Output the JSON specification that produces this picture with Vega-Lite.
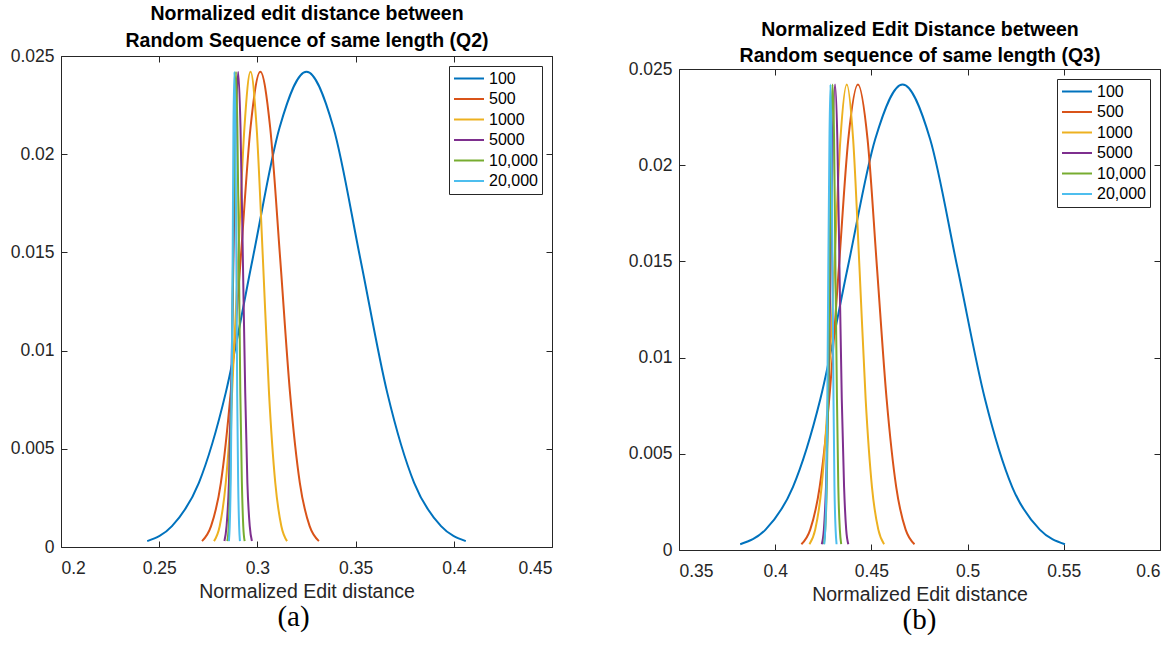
{
  "$schema": "https://vega.github.io/schema/vega-lite/v6.json",
  "background": "white",
  "padding": {"left": 10, "top": 2, "right": 0, "bottom": 0},
  "datasets": {
    "q2": [
      {"n":"100","x":0.2439,"p":0.0003},{"n":"100","x":0.2565,"p":0.00106},{"n":"100","x":0.2702,"p":0.00327},{"n":"100","x":0.2839,"p":0.00786},{"n":"100","x":0.2976,"p":0.01468},{"n":"100","x":0.3113,"p":0.02136},{"n":"100","x":0.325,"p":0.0242},{"n":"100","x":0.3387,"p":0.02136},{"n":"100","x":0.3524,"p":0.01468},{"n":"100","x":0.3661,"p":0.00786},{"n":"100","x":0.3798,"p":0.00327},{"n":"100","x":0.3935,"p":0.00106},{"n":"100","x":0.4061,"p":0.0003},
      {"n":"500","x":0.2718,"p":0.0003},{"n":"500","x":0.2764,"p":0.00106},{"n":"500","x":0.2814,"p":0.00327},{"n":"500","x":0.2864,"p":0.00786},{"n":"500","x":0.2915,"p":0.01468},{"n":"500","x":0.2965,"p":0.02136},{"n":"500","x":0.3015,"p":0.0242},{"n":"500","x":0.3065,"p":0.02136},{"n":"500","x":0.3116,"p":0.01468},{"n":"500","x":0.3166,"p":0.00786},{"n":"500","x":0.3216,"p":0.00327},{"n":"500","x":0.3266,"p":0.00106},{"n":"500","x":0.3313,"p":0.0003},
      {"n":"1000","x":0.2779,"p":0.0003},{"n":"1000","x":0.2808,"p":0.00106},{"n":"1000","x":0.2839,"p":0.00327},{"n":"1000","x":0.2871,"p":0.00786},{"n":"1000","x":0.2902,"p":0.01468},{"n":"1000","x":0.2934,"p":0.02136},{"n":"1000","x":0.2965,"p":0.0242},{"n":"1000","x":0.2996,"p":0.02136},{"n":"1000","x":0.3028,"p":0.01468},{"n":"1000","x":0.3059,"p":0.00786},{"n":"1000","x":0.3091,"p":0.00327},{"n":"1000","x":0.3122,"p":0.00106},{"n":"1000","x":0.3151,"p":0.0003},
      {"n":"5000","x":0.2832,"p":0.0003},{"n":"5000","x":0.2843,"p":0.00106},{"n":"5000","x":0.2855,"p":0.00327},{"n":"5000","x":0.2866,"p":0.00786},{"n":"5000","x":0.2878,"p":0.01468},{"n":"5000","x":0.289,"p":0.02136},{"n":"5000","x":0.2902,"p":0.0242},{"n":"5000","x":0.2914,"p":0.02136},{"n":"5000","x":0.2926,"p":0.01468},{"n":"5000","x":0.2938,"p":0.00786},{"n":"5000","x":0.2949,"p":0.00327},{"n":"5000","x":0.2961,"p":0.00106},{"n":"5000","x":0.2972,"p":0.0003},
      {"n":"10,000","x":0.2847,"p":0.0003},{"n":"10,000","x":0.2854,"p":0.00106},{"n":"10,000","x":0.2861,"p":0.00327},{"n":"10,000","x":0.2869,"p":0.00786},{"n":"10,000","x":0.2876,"p":0.01468},{"n":"10,000","x":0.2884,"p":0.02136},{"n":"10,000","x":0.2891,"p":0.0242},{"n":"10,000","x":0.2898,"p":0.02136},{"n":"10,000","x":0.2906,"p":0.01468},{"n":"10,000","x":0.2913,"p":0.00786},{"n":"10,000","x":0.2921,"p":0.00327},{"n":"10,000","x":0.2928,"p":0.00106},{"n":"10,000","x":0.2935,"p":0.0003},
      {"n":"20,000","x":0.2855,"p":0.0003},{"n":"20,000","x":0.2859,"p":0.00106},{"n":"20,000","x":0.2864,"p":0.00327},{"n":"20,000","x":0.2869,"p":0.00786},{"n":"20,000","x":0.2874,"p":0.01468},{"n":"20,000","x":0.2878,"p":0.02136},{"n":"20,000","x":0.2883,"p":0.0242},{"n":"20,000","x":0.2888,"p":0.02136},{"n":"20,000","x":0.2893,"p":0.01468},{"n":"20,000","x":0.2897,"p":0.00786},{"n":"20,000","x":0.2902,"p":0.00327},{"n":"20,000","x":0.2907,"p":0.00106},{"n":"20,000","x":0.2911,"p":0.0003}
    ],
    "q3": [
      {"n":"100","x":0.3818,"p":0.0003},{"n":"100","x":0.395,"p":0.00106},{"n":"100","x":0.4092,"p":0.00327},{"n":"100","x":0.4235,"p":0.00786},{"n":"100","x":0.4377,"p":0.01468},{"n":"100","x":0.452,"p":0.02136},{"n":"100","x":0.4662,"p":0.0242},{"n":"100","x":0.4805,"p":0.02136},{"n":"100","x":0.4947,"p":0.01468},{"n":"100","x":0.509,"p":0.00786},{"n":"100","x":0.5232,"p":0.00327},{"n":"100","x":0.5375,"p":0.00106},{"n":"100","x":0.5506,"p":0.0003},
      {"n":"500","x":0.4136,"p":0.0003},{"n":"500","x":0.4182,"p":0.00106},{"n":"500","x":0.4231,"p":0.00327},{"n":"500","x":0.4281,"p":0.00786},{"n":"500","x":0.4331,"p":0.01468},{"n":"500","x":0.438,"p":0.02136},{"n":"500","x":0.443,"p":0.0242},{"n":"500","x":0.448,"p":0.02136},{"n":"500","x":0.4529,"p":0.01468},{"n":"500","x":0.4579,"p":0.00786},{"n":"500","x":0.4629,"p":0.00327},{"n":"500","x":0.4678,"p":0.00106},{"n":"500","x":0.4724,"p":0.0003},
      {"n":"1000","x":0.4178,"p":0.0003},{"n":"1000","x":0.4208,"p":0.00106},{"n":"1000","x":0.4241,"p":0.00327},{"n":"1000","x":0.4274,"p":0.00786},{"n":"1000","x":0.4307,"p":0.01468},{"n":"1000","x":0.4339,"p":0.02136},{"n":"1000","x":0.4372,"p":0.0242},{"n":"1000","x":0.4405,"p":0.02136},{"n":"1000","x":0.4438,"p":0.01468},{"n":"1000","x":0.447,"p":0.00786},{"n":"1000","x":0.4503,"p":0.00327},{"n":"1000","x":0.4536,"p":0.00106},{"n":"1000","x":0.4566,"p":0.0003},
      {"n":"5000","x":0.4242,"p":0.0003},{"n":"5000","x":0.4253,"p":0.00106},{"n":"5000","x":0.4264,"p":0.00327},{"n":"5000","x":0.4276,"p":0.00786},{"n":"5000","x":0.4288,"p":0.01468},{"n":"5000","x":0.4299,"p":0.02136},{"n":"5000","x":0.4311,"p":0.0242},{"n":"5000","x":0.4323,"p":0.02136},{"n":"5000","x":0.4334,"p":0.01468},{"n":"5000","x":0.4346,"p":0.00786},{"n":"5000","x":0.4358,"p":0.00327},{"n":"5000","x":0.4369,"p":0.00106},{"n":"5000","x":0.438,"p":0.0003},
      {"n":"10,000","x":0.4253,"p":0.0003},{"n":"10,000","x":0.426,"p":0.00106},{"n":"10,000","x":0.4268,"p":0.00327},{"n":"10,000","x":0.4275,"p":0.00786},{"n":"10,000","x":0.4283,"p":0.01468},{"n":"10,000","x":0.429,"p":0.02136},{"n":"10,000","x":0.4298,"p":0.0242},{"n":"10,000","x":0.4306,"p":0.02136},{"n":"10,000","x":0.4313,"p":0.01468},{"n":"10,000","x":0.4321,"p":0.00786},{"n":"10,000","x":0.4328,"p":0.00327},{"n":"10,000","x":0.4336,"p":0.00106},{"n":"10,000","x":0.4343,"p":0.0003},
      {"n":"20,000","x":0.4255,"p":0.0003},{"n":"20,000","x":0.426,"p":0.00106},{"n":"20,000","x":0.4266,"p":0.00327},{"n":"20,000","x":0.4271,"p":0.00786},{"n":"20,000","x":0.4276,"p":0.01468},{"n":"20,000","x":0.4282,"p":0.02136},{"n":"20,000","x":0.4287,"p":0.0242},{"n":"20,000","x":0.4292,"p":0.02136},{"n":"20,000","x":0.4298,"p":0.01468},{"n":"20,000","x":0.4303,"p":0.00786},{"n":"20,000","x":0.4308,"p":0.00327},{"n":"20,000","x":0.4314,"p":0.00106},{"n":"20,000","x":0.4319,"p":0.0003}
    ]
  },
  "config": {
    "view": {"stroke": null},
    "font": "Liberation Sans",
    "axis": {
      "grid": false,
      "domainColor": "#262626",
      "tickColor": "#262626",
      "labelColor": "#262626",
      "titleColor": "#262626",
      "labelFont": "Liberation Sans",
      "titleFont": "Liberation Sans",
      "labelFontSize": 17.5,
      "titleFontSize": 19.5,
      "titleFontWeight": "normal",
      "tickSize": -6,
      "domainWidth": 1,
      "tickWidth": 1
    },
    "legend": {
      "orient": "top-right",
      "offset": 10,
      "symbolType": "stroke",
      "symbolSize": 900,
      "symbolStrokeWidth": 2,
      "labelFont": "Liberation Sans",
      "labelFontSize": 16,
      "labelColor": "#000000",
      "strokeColor": "#262626",
      "fillColor": "white",
      "padding": 4,
      "clipHeight": 17,
      "rowPadding": 3.5,
      "labelOffset": 4,
      "cornerRadius": 0
    },
    "line": {"strokeWidth": 2, "interpolate": "monotone"}
  },
  "spacing": 75,
  "resolve": {"legend": {"color": "independent"}},
  "hconcat": [
    {
      "spacing": 0,
      "resolve": {"legend": {"color": "independent"}},
      "vconcat": [
        {
          "width": 10,
          "height": 1,
          "data": {"values": [{}]},
          "mark": {"type": "point", "opacity": 0, "size": 0}
        },
        {
          "width": 491,
          "height": 491,
          "data": {"name": "q2"},
          "title": {"text": "(a)", "orient": "bottom", "font": "Liberation Serif", "fontSize": 29, "fontWeight": "normal", "color": "#000000", "offset": 2, "dx": -13},
          "resolve": {"axis": {"x": "independent", "y": "independent"}},
          "layer": [
            {
              "mark": {"type": "line"},
              "encoding": {
                "x": {"field": "x", "type": "quantitative", "scale": {"domain": [0.2, 0.45], "nice": false, "zero": false},
                      "axis": {"orient": "bottom", "title": "Normalized Edit distance", "values": [0.2, 0.25, 0.3, 0.35, 0.4, 0.45], "format": "~g", "labelPadding": 18, "titlePadding": 6}},
                "y": {"field": "p", "type": "quantitative", "scale": {"domain": [0, 0.025], "nice": false},
                      "axis": {"orient": "left", "title": null, "values": [0, 0.005, 0.01, 0.015, 0.02, 0.025], "format": "~g", "labelPadding": 13}},
                "color": {"field": "n", "type": "nominal",
                          "scale": {"domain": ["100", "500", "1000", "5000", "10,000", "20,000"], "range": ["#0072BD", "#D95319", "#EDB120", "#7E2F8E", "#77AC30", "#4DBEEE"]},
                          "legend": {"title": null}}
              }
            },
            {
              "mark": {"type": "point", "opacity": 0, "size": 0},
              "encoding": {
                "x": {"field": "x", "type": "quantitative",
                      "axis": {"orient": "top", "labels": false, "values": [0.2, 0.25, 0.3, 0.35, 0.4, 0.45],
                               "title": ["Normalized edit distance between", "Random Sequence of same length (Q2)"],
                               "titleFontWeight": "bold", "titleColor": "#000000", "titleLineHeight": 27, "titlePadding": 5}},
                "y": {"field": "p", "type": "quantitative",
                      "axis": {"orient": "right", "labels": false, "title": null, "values": [0, 0.005, 0.01, 0.015, 0.02, 0.025]}}
              }
            }
          ]
        }
      ]
    },
    {
      "spacing": 0,
      "resolve": {"legend": {"color": "independent"}},
      "vconcat": [
        {
          "width": 10,
          "height": 17,
          "data": {"values": [{}]},
          "mark": {"type": "point", "opacity": 0, "size": 0}
        },
        {
          "width": 481,
          "height": 481,
          "data": {"name": "q3"},
          "title": {"text": "(b)", "orient": "bottom", "font": "Liberation Serif", "fontSize": 29, "fontWeight": "normal", "color": "#000000", "offset": 2},
          "resolve": {"axis": {"x": "independent", "y": "independent"}},
          "layer": [
            {
              "mark": {"type": "line"},
              "encoding": {
                "x": {"field": "x", "type": "quantitative", "scale": {"domain": [0.35, 0.6], "nice": false, "zero": false},
                      "axis": {"orient": "bottom", "title": "Normalized Edit distance", "values": [0.35, 0.4, 0.45, 0.5, 0.55, 0.6], "format": "~g", "labelPadding": 18, "titlePadding": 6}},
                "y": {"field": "p", "type": "quantitative", "scale": {"domain": [0, 0.025], "nice": false},
                      "axis": {"orient": "left", "title": null, "values": [0, 0.005, 0.01, 0.015, 0.02, 0.025], "format": "~g", "labelPadding": 13}},
                "color": {"field": "n", "type": "nominal",
                          "scale": {"domain": ["100", "500", "1000", "5000", "10,000", "20,000"], "range": ["#0072BD", "#D95319", "#EDB120", "#7E2F8E", "#77AC30", "#4DBEEE"]},
                          "legend": {"title": null}}
              }
            },
            {
              "mark": {"type": "point", "opacity": 0, "size": 0},
              "encoding": {
                "x": {"field": "x", "type": "quantitative",
                      "axis": {"orient": "top", "labels": false, "values": [0.35, 0.4, 0.45, 0.5, 0.55, 0.6],
                               "title": ["Normalized Edit Distance between", "Random sequence of same length (Q3)"],
                               "titleFontWeight": "bold", "titleColor": "#000000", "titleLineHeight": 26, "titlePadding": 3}},
                "y": {"field": "p", "type": "quantitative",
                      "axis": {"orient": "right", "labels": false, "title": null, "values": [0, 0.005, 0.01, 0.015, 0.02, 0.025]}}
              }
            }
          ]
        }
      ]
    }
  ]
}
